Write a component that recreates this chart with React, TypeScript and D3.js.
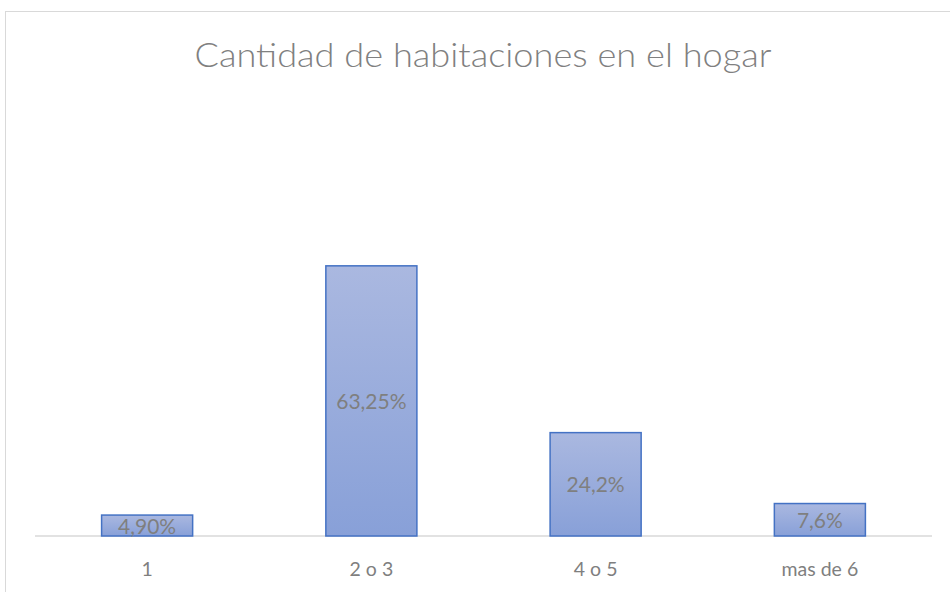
import React from "react";
import * as d3 from "d3";

const categories = ["1", "2 o 3", "4 o 5", "mas de 6"];
const values = [4.9, 63.25, 24.2, 7.6];
const labels = ["4,90%", "63,25%", "24,2%", "7,6%"];
const title = "Cantidad de habitaciones en el hogar";

const W = 950;
const H = 592;
const FONT = "Lato, 'Open Sans', sans-serif";

export default function App() {
  const x = d3.scaleBand<string>().domain(categories).range([35, 932]).paddingInner(0.594).paddingOuter(0.297);
  const y = d3.scaleLinear().domain([0, 70]).range([536, 237]);
  const baseY = y(0);

  return (
    <svg
      width={W}
      height={H}
      style={{ position: "absolute", left: 0, top: 0, background: "#fff" }}
    >
      <defs>
        <linearGradient id="barGrad" x1="0" y1="0" x2="0" y2="1">
          <stop offset="0%" stopColor="#aab8e0" />
          <stop offset="100%" stopColor="#88a0d8" />
        </linearGradient>
      </defs>
      <rect x={5.5} y={11.5} width={960} height={700} fill="#fff" stroke="#d9d9d9" strokeWidth={1} />
      <text
        x={483}
        y={66.5}
        textAnchor="middle"
        fontFamily={FONT}
        fontSize={34}
        fontWeight={300}
        fill="#808080"
        textLength={577}
        lengthAdjust="spacingAndGlyphs"
      >
        {title}
      </text>
      <line x1={35} x2={932} y1={baseY} y2={baseY} stroke="#d9d9d9" strokeWidth={1.5} />
      {categories.map((c, i) => {
        const bx = x(c)!;
        const bw = x.bandwidth();
        const top = y(values[i]);
        return (
          <g key={c}>
            <rect
              x={bx}
              y={top}
              width={bw}
              height={baseY - top}
              fill="url(#barGrad)"
              stroke="#4472c4"
              strokeWidth={1.5}
            />
            <text
              x={bx + bw / 2}
              y={(top + baseY) / 2 + 8}
              textAnchor="middle"
              fontFamily={FONT}
              fontSize={21}
              fill="#7f7f7f"
            >
              {labels[i]}
            </text>
            <text
              x={bx + bw / 2}
              y={576}
              textAnchor="middle"
              fontFamily={FONT}
              fontSize={19.5}
              fill="#7f7f7f"
            >
              {c}
            </text>
          </g>
        );
      })}
    </svg>
  );
}
